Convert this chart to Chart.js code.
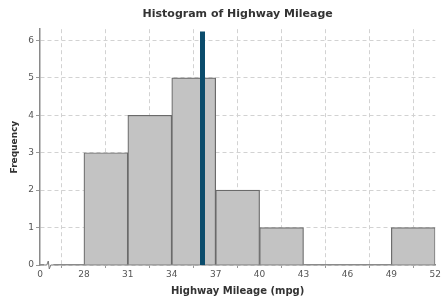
<!DOCTYPE html>
<html>
<head>
<meta charset="utf-8">
<script src="https://cdn.jsdelivr.net/npm/chart.js@4"></script>
<style>
html,body{margin:0;padding:0;background:#fff;}
#wrap{width:442px;height:299px;}
</style>
</head>
<body>
<div id="wrap"><canvas id="c" width="442" height="299"></canvas></div>
<script>
// Data
const tickLabels = [0, 28, 31, 34, 37, 40, 43, 46, 49, 52];
const binStarts = [28, 31, 34, 37, 40, 43, 46, 49];
const binEnds   = [31, 34, 37, 40, 43, 46, 49, 52];
const counts    = [3, 4, 5, 2, 1, 0, 0, 1];
const meanMpg = 36.1;
const meanLineTop = 6.24;

// axis has a break between 0 and 28: map mpg to axis position
function pos(mpg) { return mpg <= 0 ? 0 : (mpg - 28) / 3 + 1; }

const barData = binStarts.map((s, i) => ({ x: (pos(s) + pos(binEnds[i])) / 2, y: counts[i] > 0 ? counts[i] : null }));
const meanData = [{ x: pos(meanMpg), y: 0 }, { x: pos(meanMpg), y: meanLineTop }];

const FONT = "'DejaVu Sans', Verdana, sans-serif";

const breakPlugin = {
  id: 'axisBreak',
  afterDraw(chart) {
    const xs = chart.scales.x, ys = chart.scales.y;
    const ctx = chart.ctx;
    const y0 = ys.getPixelForValue(0);
    const a = xs.getPixelForValue(0.1), b = xs.getPixelForValue(0.3);
    const m = (a + b) / 2;
    ctx.save();
    ctx.fillStyle = '#fff';
    ctx.fillRect(a, y0 - 1.5, b - a, 3);
    ctx.strokeStyle = '#777';
    ctx.lineWidth = 1;
    ctx.beginPath();
    ctx.moveTo(a, y0);
    ctx.lineTo(m - 2, y0);
    ctx.lineTo(m - 0.5, y0 - 4);
    ctx.lineTo(m + 0.5, y0 + 4);
    ctx.lineTo(m + 2, y0);
    ctx.lineTo(b, y0);
    ctx.stroke();
    ctx.restore();
  }
};

new Chart(document.getElementById('c'), {
  data: {
    datasets: [
      {
        type: 'line',
        data: meanData,
        borderColor: '#0b4c6c',
        borderWidth: 5,
        borderCapStyle: 'butt',
        pointRadius: 0,
        fill: false,
        order: 1
      },
      {
        type: 'bar',
        data: barData,
        backgroundColor: '#c3c3c3',
        borderColor: '#6a6a6a',
        borderWidth: 1.2,
        barPercentage: 1,
        categoryPercentage: 1,
        order: 2
      }
    ]
  },
  options: {
    responsive: false,
    animation: false,
    devicePixelRatio: 1,
    layout: { padding: { left: 0, right: 6, top: 0, bottom: 0 } },
    plugins: {
      legend: { display: false },
      tooltip: { enabled: false },
      title: {
        display: true,
        text: 'Histogram of Highway Mileage',
        color: '#333',
        font: { family: FONT, size: 11, weight: 'bold' },
        padding: { top: 8, bottom: 8 },
        fullSize: false
      }
    },
    scales: {
      x: {
        type: 'linear',
        min: 0,
        max: 9,
        offset: false,
        ticks: {
          stepSize: 1,
          autoSkip: false,
          maxRotation: 0,
          padding: 1,
          color: '#555',
          font: { family: FONT, size: 9 },
          callback: (v) => tickLabels[v]
        },
        grid: {
          color: '#d2d2d2',
          tickBorderDash: [],
          tickColor: '#999',
          tickLength: 3,
          drawOnChartArea: true
        },
        border: { color: '#8a8a8a', width: 1.5, dash: [4, 3] },
        title: {
          display: true,
          text: 'Highway Mileage (mpg)',
          color: '#333',
          font: { family: FONT, size: 10, weight: 'bold' },
          padding: { top: 2, bottom: 2 }
        },
        afterFit(scale) { scale.height = 34; }
      },
      y: {
        type: 'linear',
        min: 0,
        max: 6.3,
        ticks: {
          stepSize: 1,
          padding: 2,
          color: '#555',
          font: { family: FONT, size: 9 }
        },
        afterBuildTicks(scale) { scale.ticks = scale.ticks.filter(t => Number.isInteger(t.value)); },
        grid: {
          color: '#d2d2d2',
          tickBorderDash: [],
          tickColor: '#999',
          tickLength: 4
        },
        border: { color: '#8a8a8a', width: 1.5, dash: [4, 3] },
        title: {
          display: true,
          text: 'Frequency',
          color: '#333',
          font: { family: FONT, size: 9, weight: 'bold' },
          padding: { top: 9, bottom: 2 }
        },
        afterFit(scale) { scale.width = 40; }
      }
    }
  },
  plugins: [breakPlugin]
});
</script>
</body>
</html>
